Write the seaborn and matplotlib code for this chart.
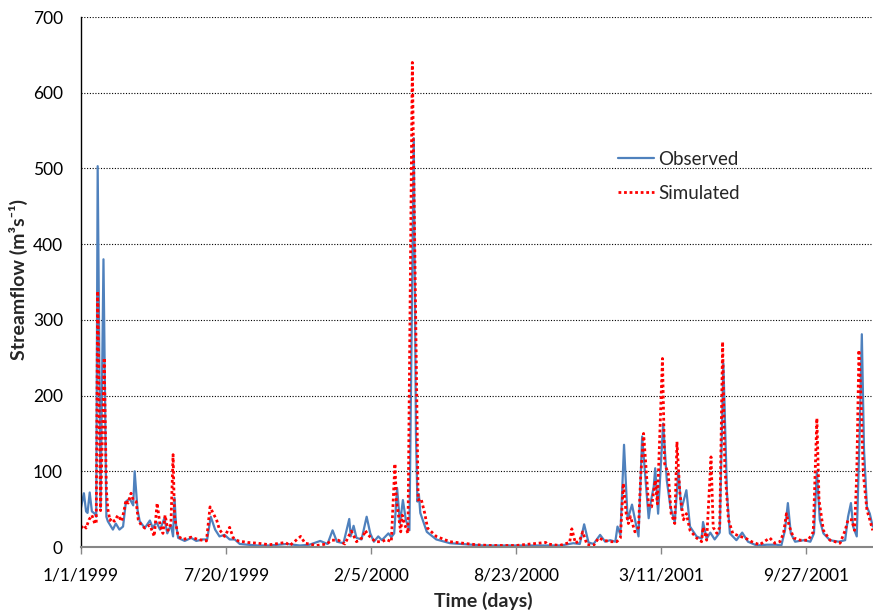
import numpy as np
import pandas as pd
import matplotlib
matplotlib.use("Agg")
import matplotlib.pyplot as plt
import seaborn as sns

# ---- Streamflow record, days counted from 1/1/1999 ----
obs_day = [0, 4, 7, 9, 12, 15, 19, 21, 23, 27, 31, 35, 37, 44, 48, 53, 58, 62, 67, 72,
           74, 78, 81, 88, 95, 99, 104, 109, 115, 119, 124, 127, 129, 131, 134, 143, 152,
           159, 168, 174, 179, 185, 191, 198, 205, 212, 219, 230, 244, 260, 284, 302, 315,
           330, 340, 347, 353, 362, 370, 372, 376, 380, 387, 394, 399, 404, 410, 415, 419,
           424, 428, 432, 436, 440, 444, 448, 453, 459, 462, 464, 466, 468, 477, 490, 509,
           555, 600, 640, 661, 668, 679, 688, 694, 700, 707, 716, 723, 730, 737, 740, 744,
           749, 754, 760, 765, 769, 774, 778, 783, 786, 790, 792, 796, 803, 808, 813, 819,
           824, 828, 835, 840, 849, 856, 858, 863, 868, 874, 881, 886, 891, 895, 904, 912,
           920, 932, 946, 959, 966, 971, 975, 979, 985, 997, 1006, 1011, 1015, 1019, 1024,
           1033, 1045, 1054, 1058, 1062, 1065, 1070, 1074, 1077, 1080, 1084, 1088, 1092]
obs_flow = [52, 71, 47, 45, 72, 47, 44, 40, 503, 52, 380, 40, 34, 23, 31, 23, 27, 60, 64, 55,
            100, 49, 34, 25, 35, 25, 33, 23, 38, 18, 29, 14, 65, 30, 12, 8, 12,
            8, 10, 10, 40, 23, 14, 16, 10, 10, 4, 3, 2, 2, 4, 2, 3,
            8, 4, 22, 7, 5, 37, 14, 28, 12, 10, 40, 18, 7, 14, 9, 13,
            18, 13, 18, 78, 31, 62, 36, 22, 540, 150, 60, 70, 45, 20, 10, 5,
            2, 2, 2, 2, 3, 5, 4, 30, 6, 4, 16, 7, 9, 7, 27, 16,
            135, 36, 56, 32, 14, 146, 97, 38, 60, 80, 104, 44, 163, 88, 53, 33,
            101, 49, 75, 27, 14, 11, 33, 11, 19, 10, 19, 243, 71, 18, 9, 19,
            7, 2, 3, 3, 2, 22, 58, 18, 7, 9, 7, 18, 100, 36, 18,
            9, 7, 9, 40, 58, 27, 14, 151, 281, 129, 53, 44, 27]

sim_day = [0, 4, 7, 11, 15, 19, 21, 23, 27, 32, 35, 37, 40, 42, 46, 51, 56, 60, 62, 65,
           69, 72, 76, 79, 83, 88, 95, 101, 105, 109, 113, 116, 120, 124, 127, 129, 134,
           141, 152, 161, 173, 178, 182, 187, 191, 198, 205, 210, 217, 230, 244, 260, 282,
           288, 303, 309, 325, 339, 346, 355, 364, 369, 373, 380, 389, 392, 396, 406, 415,
           421, 428, 433, 435, 441, 443, 446, 451, 457, 465, 469, 474, 478, 490, 509, 527,
           545, 564, 600, 641, 643, 660, 674, 677, 682, 688, 692, 698, 707, 714, 721, 730,
           739, 744, 748, 752, 755, 758, 764, 769, 772, 776, 779, 783, 787, 792, 795, 799,
           802, 805, 810, 814, 819, 822, 826, 831, 835, 840, 849, 856, 858, 863, 869, 872,
           877, 881, 885, 888, 893, 899, 909, 916, 925, 936, 950, 957, 964, 969, 973, 977,
           983, 992, 1003, 1010, 1015, 1018, 1024, 1033, 1047, 1054, 1058, 1063, 1067, 1070,
           1073, 1076, 1079, 1084, 1088, 1092]
sim_flow = [25, 29, 25, 36, 42, 31, 31, 338, 48, 250, 75, 50, 35, 38, 34, 42, 34, 51, 62, 58,
            71, 62, 60, 36, 29, 25, 29, 14, 58, 29, 18, 42, 22, 30, 122, 40, 14,
            10, 13, 10, 8, 53, 45, 36, 23, 14, 26, 12, 8, 6, 5, 3, 6,
            2, 14, 5, 2, 4, 9, 9, 4, 14, 21, 7, 13, 22, 16, 7, 7,
            10, 7, 110, 62, 20, 42, 31, 18, 640, 62, 64, 45, 25, 14, 7, 5,
            3, 2, 2, 6, 4, 2, 6, 24, 5, 9, 20, 3, 2, 12, 9, 7,
            7, 12, 84, 44, 31, 40, 20, 26, 93, 150, 110, 53, 53, 88, 57, 168,
            249, 110, 97, 44, 31, 139, 71, 36, 44, 22, 12, 7, 26, 9, 119, 26,
            18, 26, 271, 106, 36, 18, 14, 12, 7, 3, 12, 5, 7, 18, 44, 27,
            12, 9, 9, 20, 170, 62, 22, 9, 5, 22, 36, 36, 22, 97,
            260, 194, 97, 49, 36, 22]

tick_days = [0, 200, 400, 600, 800, 1000]
tick_labels = ["1/1/1999", "7/20/1999", "2/5/2000", "8/23/2000", "3/11/2001", "9/27/2001"]
y_ticks = [0, 100, 200, 300, 400, 500, 600, 700]

observed = pd.DataFrame({"day": obs_day, "flow": obs_flow})
simulated = pd.DataFrame({"day": sim_day, "flow": sim_flow})

sns.set_style("white")
plt.rcParams["font.family"] = ["Lato", "DejaVu Sans"]

W, H = 873, 613
fig = plt.figure(figsize=(W / 100, H / 100), dpi=100)
left, right, top, bottom = 81, 873, 17, 547
ax = fig.add_axes([left / W, 1 - bottom / H, (right - left) / W, (bottom - top) / H])

sns.lineplot(data=observed, x="day", y="flow", ax=ax, color="#4F81BD",
             linewidth=1.6, estimator=None, label="Observed")
sns.lineplot(data=simulated, x="day", y="flow", ax=ax, color="#FF0000",
             linewidth=2.0, linestyle=(0, (1, 1.0)), estimator=None, label="Simulated")

ax.set_xlim(0, (right - left) / 0.725)
ax.set_ylim(0, 700)
ax.set_yticks(y_ticks)
ax.set_xticks(tick_days)
ax.set_xticklabels(tick_labels)

ax.yaxis.grid(True, color="black", linestyle=(0, (1, 1.5)), linewidth=0.8)
ax.xaxis.grid(False)
ax.set_axisbelow(True)

for side in ["top", "right"]:
    ax.spines[side].set_visible(False)
ax.spines["left"].set_color("black")
ax.spines["left"].set_linewidth(1.0)
ax.spines["bottom"].set_color("#868686")
ax.spines["bottom"].set_linewidth(1.5)

ax.tick_params(axis="y", length=0, pad=13, labelsize=12.5, labelcolor="black")
ax.tick_params(axis="x", direction="out", length=5, width=1, color="#868686",
               pad=10, labelsize=12.5, labelcolor="black", bottom=True)

ax.set_xlabel("Time (days)", fontsize=14, fontweight="bold")
ax.set_ylabel("Streamflow (m\u00b3s\u207b\u00b9)", fontsize=14, fontweight="bold")
ax.xaxis.set_label_coords((483 - left) / (right - left), (bottom - 592) / (bottom - top))
ax.yaxis.set_label_coords((28 - left) / (right - left), 0.505)

ax.get_legend().remove()
handles, labels = ax.get_legend_handles_labels()
fig.legend(handles, labels, loc="upper left", bbox_to_anchor=(618 / W, 1 - 151 / H),
           frameon=False, fontsize=13.5, handlelength=1.9, handletextpad=0.25,
           labelspacing=0.9, borderpad=0, borderaxespad=0)

fig.savefig("out.png", dpi=100)
